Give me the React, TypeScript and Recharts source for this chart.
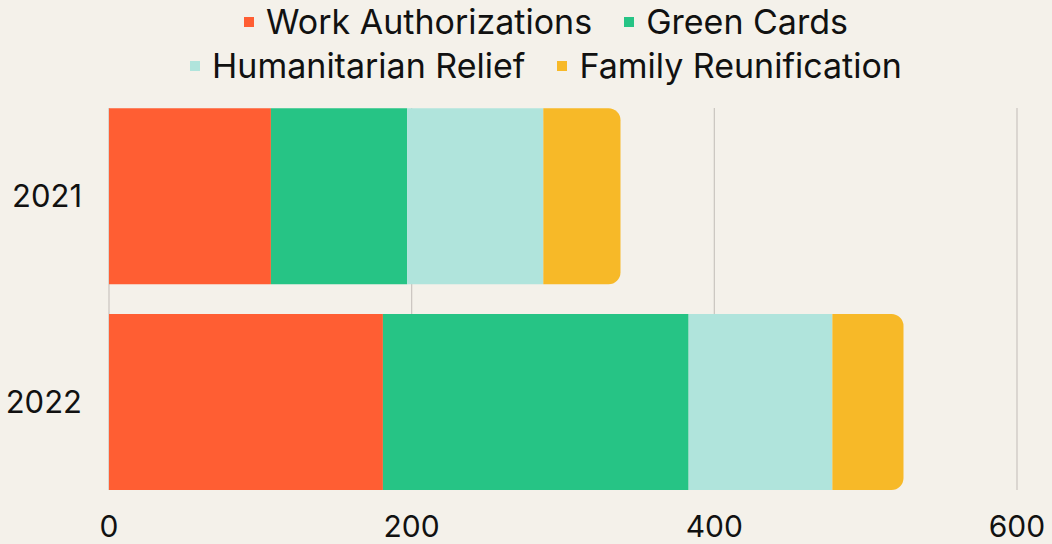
import React from "react";
import { BarChart, Bar, XAxis, YAxis, CartesianGrid, Legend } from "recharts";

const years = ["2021", "2022"];
const workAuthorizations = [107, 181];
const greenCards = [90, 202];
const humanitarianRelief = [90, 95];
const familyReunification = [51, 47];
const xTicks = [0, 200, 400, 600];

const seriesNames = [
    "Work Authorizations",
    "Green Cards",
    "Humanitarian Relief",
    "Family Reunification",
];
const seriesKeys = ["work", "green", "humanitarian", "family"];
const colors = ["#FF5E33", "#26C485", "#B0E4DC", "#F7B928"];

const data = years.map((y, i) => ({
    year: y,
    work: workAuthorizations[i],
    green: greenCards[i],
    humanitarian: humanitarianRelief[i],
    family: familyReunification[i],
}));

const FONT = "Inter, sans-serif";

function LegendRows() {
    const rows = [
        [0, 1],
        [2, 3],
    ];
    return (
        <div style={{ width: 1092, fontFamily: FONT }}>
            {rows.map((row, ri) => (
                <div
                    key={ri}
                    style={{
                        display: "flex",
                        justifyContent: "center",
                        alignItems: "center",
                        height: 44,
                        gap: 32,
                    }}
                >
                    {row.map((idx) => (
                        <div key={idx} style={{ display: "flex", alignItems: "center" }}>
                            <span
                                style={{
                                    width: 10,
                                    height: 10,
                                    background: colors[idx],
                                    marginRight: 12,
                                    display: "inline-block",
                                }}
                            />
                            <span
                                style={{
                                    fontSize: 34,
                                    color: "#111",
                                    lineHeight: "44px",
                                }}
                            >
                                {seriesNames[idx]}
                            </span>
                        </div>
                    ))}
                </div>
            ))}
        </div>
    );
}

export default function App() {
    return (
        <div
            style={{
                position: "absolute",
                left: 0,
                top: 0,
                width: 1052,
                height: 544,
                background: "#F4F1EA",
            }}
        >
            <BarChart
                width={1052}
                height={544}
                data={data}
                layout="vertical"
                margin={{ top: 108, right: 35, bottom: 0, left: 0 }}
                barSize={176}
            >
                <CartesianGrid horizontal={false} stroke="#C9C5BF" strokeWidth={1.2} />
                <XAxis
                    type="number"
                    domain={[0, 600]}
                    ticks={xTicks}
                    axisLine={false}
                    tickLine={false}
                    tickSize={0}
                    tickMargin={26}
                    height={54}
                    tick={{ fontSize: 30, fill: "#111", fontFamily: FONT }}
                />
                <YAxis
                    type="category"
                    dataKey="year"
                    width={109}
                    axisLine={false}
                    tickLine={false}
                    tickSize={0}
                    tickMargin={27}
                    padding={{ top: -14.75, bottom: -14.75 }}
                    tick={{ fontSize: 31, fill: "#111", fontFamily: FONT }}
                />
                <Legend
                    verticalAlign="middle"
                    layout="horizontal"
                    content={() => <LegendRows />}
                    wrapperStyle={{ top: 0, left: 0, width: 1092 }}
                />
                {seriesKeys.map((k, idx) => (
                    <Bar
                        key={k}
                        dataKey={k}
                        name={seriesNames[idx]}
                        stackId="a"
                        fill={colors[idx]}
                        isAnimationActive={false}
                        radius={idx === seriesKeys.length - 1 ? [0, 12, 12, 0] : 0}
                    />
                ))}
            </BarChart>
        </div>
    );
}
